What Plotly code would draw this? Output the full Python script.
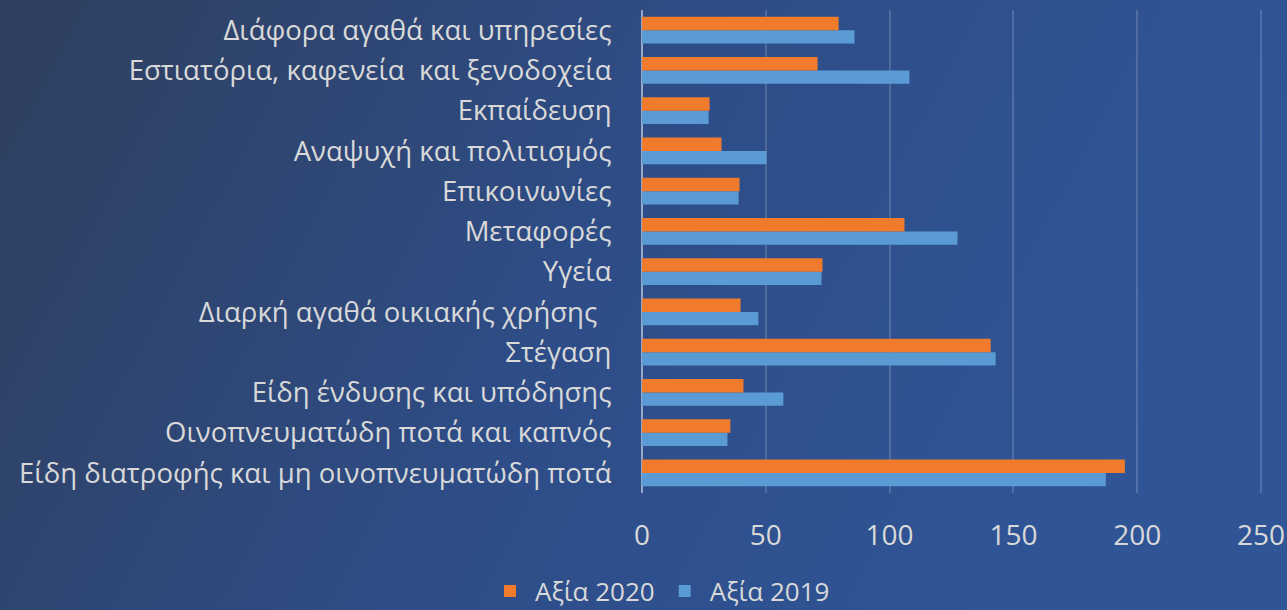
import plotly.graph_objects as go
import base64

categories = [
    "Είδη διατροφής και μη οινοπνευματώδη ποτά",
    "Οινοπνευματώδη ποτά και καπνός",
    "Είδη ένδυσης και υπόδησης",
    "Στέγαση",
    "Διαρκή αγαθά οικιακής χρήσης\u00a0\u00a0",
    "Υγεία",
    "Μεταφορές",
    "Επικοινωνίες",
    "Αναψυχή και πολιτισμός",
    "Εκπαίδευση",
    "Εστιατόρια, καφενεία\u00a0 και ξενοδοχεία",
    "Διάφορα αγαθά και υπηρεσίες",
]
values_2019 = [187.3, 34.5, 57.1, 142.8, 47.0, 72.5, 127.4, 39.0, 50.3, 26.9, 108.0, 85.8]
values_2020 = [195.0, 35.7, 41.0, 140.8, 39.8, 72.9, 106.0, 39.4, 32.1, 27.3, 70.9, 79.4]
x_ticks = [0, 50, 100, 150, 200, 250]

W, H = 1287, 610
ML, MR, MT, MB = 642, 21, 10, 117

svg = f'''<svg xmlns="http://www.w3.org/2000/svg" width="{W}" height="{H}" viewBox="0 0 {W} {H}" preserveAspectRatio="none">
<defs><linearGradient id="g" x1="0" y1="0" x2="1" y2="0.25">
<stop offset="0" stop-color="#2f3f5e"/>
<stop offset="0.55" stop-color="#2e4d88"/>
<stop offset="1" stop-color="#2f5597"/>
</linearGradient></defs>
<rect width="{W}" height="{H}" fill="url(#g)"/></svg>'''
uri = "data:image/svg+xml;base64," + base64.b64encode(svg.encode()).decode()

pw = W - ML - MR
ph = H - MT - MB

fig = go.Figure()
fig.add_trace(go.Bar(y=categories, x=values_2019, orientation="h", name="Αξία 2019",
                     marker=dict(color="#5b9bd5", line=dict(width=0))))
fig.add_trace(go.Bar(y=categories, x=values_2020, orientation="h", name="Αξία 2020",
                     marker=dict(color="#f07b2c", line=dict(width=0))))

font_family = "Open Sans"
fig.update_layout(
    width=W, height=H,
    margin=dict(l=ML, r=MR, t=MT, b=MB, autoexpand=False),
    paper_bgcolor="#2e4a80",
    plot_bgcolor="rgba(0,0,0,0)",
    barmode="group",
    bargap=0.33,
    bargroupgap=0.0,
    font=dict(family=font_family, color="#d9d9d9", size=27.5),
    images=[dict(source=uri, xref="paper", yref="paper",
                 x=-ML / pw, y=1 + MT / ph, sizex=W / pw, sizey=H / ph,
                 xanchor="left", yanchor="top", sizing="stretch", layer="below")],
    xaxis=dict(range=[0, 252], tickvals=x_ticks, showgrid=True,
               gridcolor="rgba(255,255,255,0.16)", gridwidth=1.5,
               zeroline=True, zerolinecolor="rgba(220,230,245,0.6)", zerolinewidth=2,
               tickfont=dict(size=28, color="#d9d9d9"), ticks="outside", ticklen=17,
               tickcolor="rgba(0,0,0,0)",
               showline=False, fixedrange=True, automargin=False),
    yaxis=dict(categoryorder="array", categoryarray=categories,
               tickfont=dict(size=27.5, color="#d9d9d9"), ticks="outside",
               ticklen=24, tickcolor="rgba(0,0,0,0)", showgrid=False,
               showline=False, fixedrange=True, automargin=False),
    legend=dict(orientation="h", x=(660 - ML) / pw, xanchor="center",
                y=(MT + ph - 591) / ph, yanchor="middle",
                traceorder="reversed", font=dict(size=26, color="#d9d9d9"),
                bgcolor="rgba(0,0,0,0)", itemwidth=40),
    showlegend=True,
)
fig.write_html("out.html", config={"displayModeBar": False},
               post_script="document.body.style.margin='0';document.body.style.overflow='hidden';")
